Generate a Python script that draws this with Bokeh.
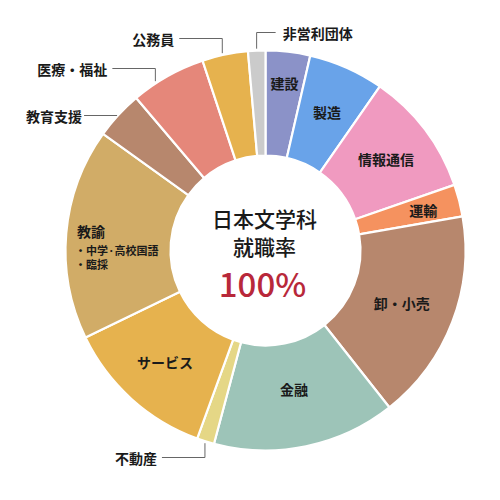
import numpy as np
from bokeh.plotting import figure
from bokeh.models import Range1d
from bokeh.core.properties import value
from bokeh.embed import file_html
from bokeh.resources import INLINE

# ---- data (clockwise from 12 o'clock) ----
categories = ["建設", "製造", "情報通信", "運輸", "卸・小売", "金融", "不動産",
              "サービス", "教諭", "教育支援", "医療・福祉", "公務員", "非営利団体"]
shares = [3.6, 6.1, 10.0, 2.6, 17.1, 14.8, 1.4, 12.3, 17.1, 3.9, 6.1, 3.7, 1.4]
colors = ["#8b92c8", "#69a3e9", "#f09ac0", "#f5925f", "#b7876d", "#9dc4b8", "#e5d786",
          "#e6b24e", "#d1ac67", "#b7876d", "#e5877a", "#e6b24e", "#cbcbcb"]
title_lines = ["日本文学科", "就職率"]
rate_text = "100%"
teacher_sub = ["・中学·高校国語", "・臨採"]

# inside labels: radius (px) per slice; None = outside callout
inside_r = [169, 152, 151, 163, 146, 141, None, 150, None, None, None, None, None]
# outside callouts: index -> (side, label y in image px, anchor position within slice)
callouts = {6: ("left", 457, 0.5), 9: ("left", 115, 0.5), 10: ("left", 68, 0.33),
            11: ("left", 38, 0.45), 12: ("right", 32, 0.5)}

FONT = "Noto Sans CJK JP"
FONT_MED = "'Noto Sans CJK JP Medium', 'Noto Sans CJK JP'"
CX, CY = 265, 250  # image px
R_OUT, R_IN = 200, 95

def Y(img_y):
    return 500 - img_y

p = figure(width=492, height=492, output_backend="svg", toolbar_location=None,
           x_range=Range1d(0, 492), y_range=Range1d(8, 500), min_border=0)
p.axis.visible = False
p.grid.visible = False
p.outline_line_color = None
p.background_fill_color = "white"

vals = np.array(shares, dtype=float)
frac = vals / vals.sum()
cum = np.concatenate([[0], np.cumsum(frac)])
start = np.pi / 2 - cum[:-1] * 2 * np.pi
end = np.pi / 2 - cum[1:] * 2 * np.pi
mid = (start + end) / 2

p.annular_wedge(x=CX, y=Y(CY), inner_radius=R_IN, outer_radius=R_OUT,
                start_angle=list(start), end_angle=list(end), direction="clock",
                fill_color=colors, line_color="white", line_width=2.2)

LBL = "14px"
# inside labels
for i, name in enumerate(categories):
    r = inside_r[i]
    if r is None:
        continue
    x = CX + r * np.cos(mid[i])
    y = Y(CY) + r * np.sin(mid[i])
    p.text(x=[x], y=[y], text=[name], text_font=value(FONT), text_font_style="bold",
           text_font_size=LBL, text_align="center", text_baseline="middle",
           text_color="#1a1a1a")

# teacher block (教諭)
ti = categories.index("教諭")
tx = CX + 150 * np.cos(mid[ti]) - 39
ty = Y(CY) + 150 * np.sin(mid[ti]) + 7
p.text(x=[tx], y=[ty], text=[categories[ti]], text_font=value(FONT), text_font_style="bold",
       text_font_size=LBL, text_align="left", text_baseline="middle", text_color="#1a1a1a")
for k, s in enumerate(teacher_sub):
    p.text(x=[tx - 2], y=[ty - 19 - 14 * k], text=[s], text_font=value(FONT), text_font_style="bold",
           text_font_size="11px", text_align="left", text_baseline="middle", text_color="#1a1a1a")

# outside callouts
for i, (side, ly, f) in callouts.items():
    ang = start[i] + (end[i] - start[i]) * f
    ax = CX + (R_OUT + 2) * np.cos(ang)
    ay = Y(CY) + (R_OUT + 2) * np.sin(ang)
    lyd = Y(ly)
    if abs(ay - lyd) < 4:
        xs, ys = [ax, ax - 33], [lyd, lyd]
        tx_end = ax - 35
    else:
        if side == "left":
            xs, ys = [ax, ax, ax - 43], [ay, lyd, lyd]
            tx_end = ax - 48
        else:
            xs, ys = [ax, ax, ax + 19], [ay, lyd, lyd]
            tx_end = ax + 26
    p.line(x=xs, y=ys, line_color="#666666", line_width=1)
    p.text(x=[tx_end], y=[lyd], text=[categories[i]], text_font=value(FONT), text_font_style="bold",
           text_font_size=LBL, text_align="right" if side == "left" else "left",
           text_baseline="middle", text_color="#1a1a1a")

# center text
p.text(x=[CX - 1, CX - 1], y=[Y(217), Y(245)], text=title_lines, text_font=value(FONT_MED),
       text_font_size="21px", text_align="center", text_baseline="middle", text_color="#1a1a1a")
p.text(x=[CX - 3], y=[Y(282)], text=[rate_text], text_font=value(FONT_MED),
       text_font_size="33px", text_align="center", text_baseline="middle", text_color="#b8283a")

open("out.html", "w").write(file_html(p, INLINE))
